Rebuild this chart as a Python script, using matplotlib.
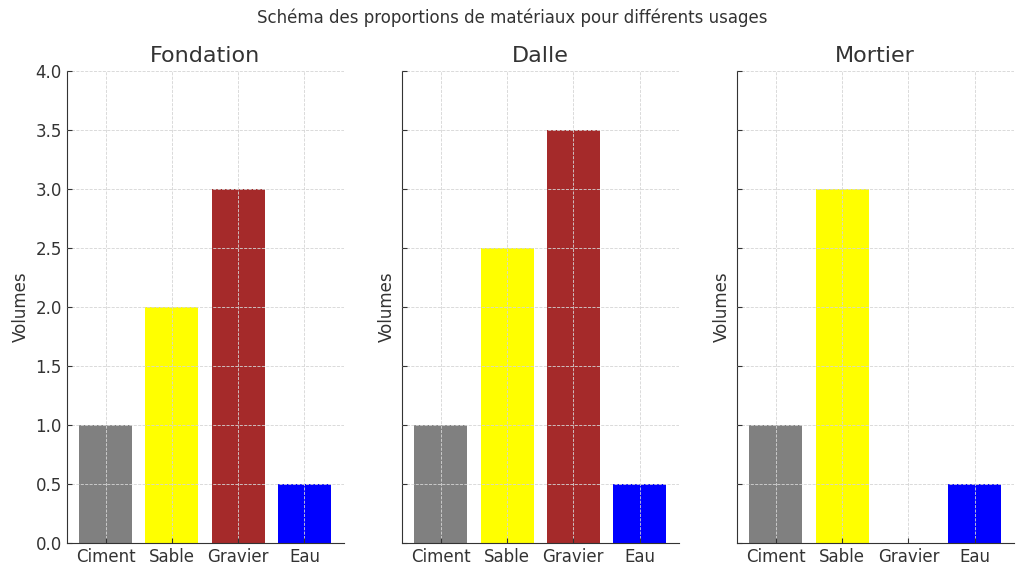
import matplotlib.pyplot as plt

materials = ["Ciment", "Sable", "Gravier", "Eau"]
usages = ["Fondation", "Dalle", "Mortier"]
fondation = [1, 2, 3, 0.5]
dalle = [1, 2.5, 3.5, 0.5]
mortier = [1, 3, 0, 0.5]
colors = ["grey", "yellow", "brown", "blue"]

text_col = "#333333"
plt.rcParams["font.family"] = "DejaVu Sans"

fig, axes = plt.subplots(1, 3, figsize=(10.24, 5.75), dpi=100, sharey=True)
fig.subplots_adjust(left=0.065, right=0.99, top=0.877, bottom=0.056, wspace=0.21)

for ax, name, vals in zip(axes, usages, [fondation, dalle, mortier]):
    ax.bar(materials, vals, color=colors)
    ax.set_title(name, fontsize=16, color=text_col)
    ax.set_ylabel("Volumes", fontsize=12, color=text_col)
    ax.set_ylim(0, 4)
    ax.set_yticks([0, 0.5, 1, 1.5, 2, 2.5, 3, 3.5, 4])
    ax.grid(True, linestyle="--", color="#d5d5d5", linewidth=0.6)
    ax.set_axisbelow(False)
    ax.tick_params(direction="in", labelsize=12, colors=text_col)
    for s in ["top", "right"]:
        ax.spines[s].set_visible(False)
    for s in ["left", "bottom"]:
        ax.spines[s].set_color(text_col)
    ax.tick_params(axis="y", labelleft=True if ax is axes[0] else False)

fig.suptitle("Schéma des proportions de matériaux pour différents usages",
             fontsize=12, color=text_col, y=0.985)

fig.savefig("out.png")
